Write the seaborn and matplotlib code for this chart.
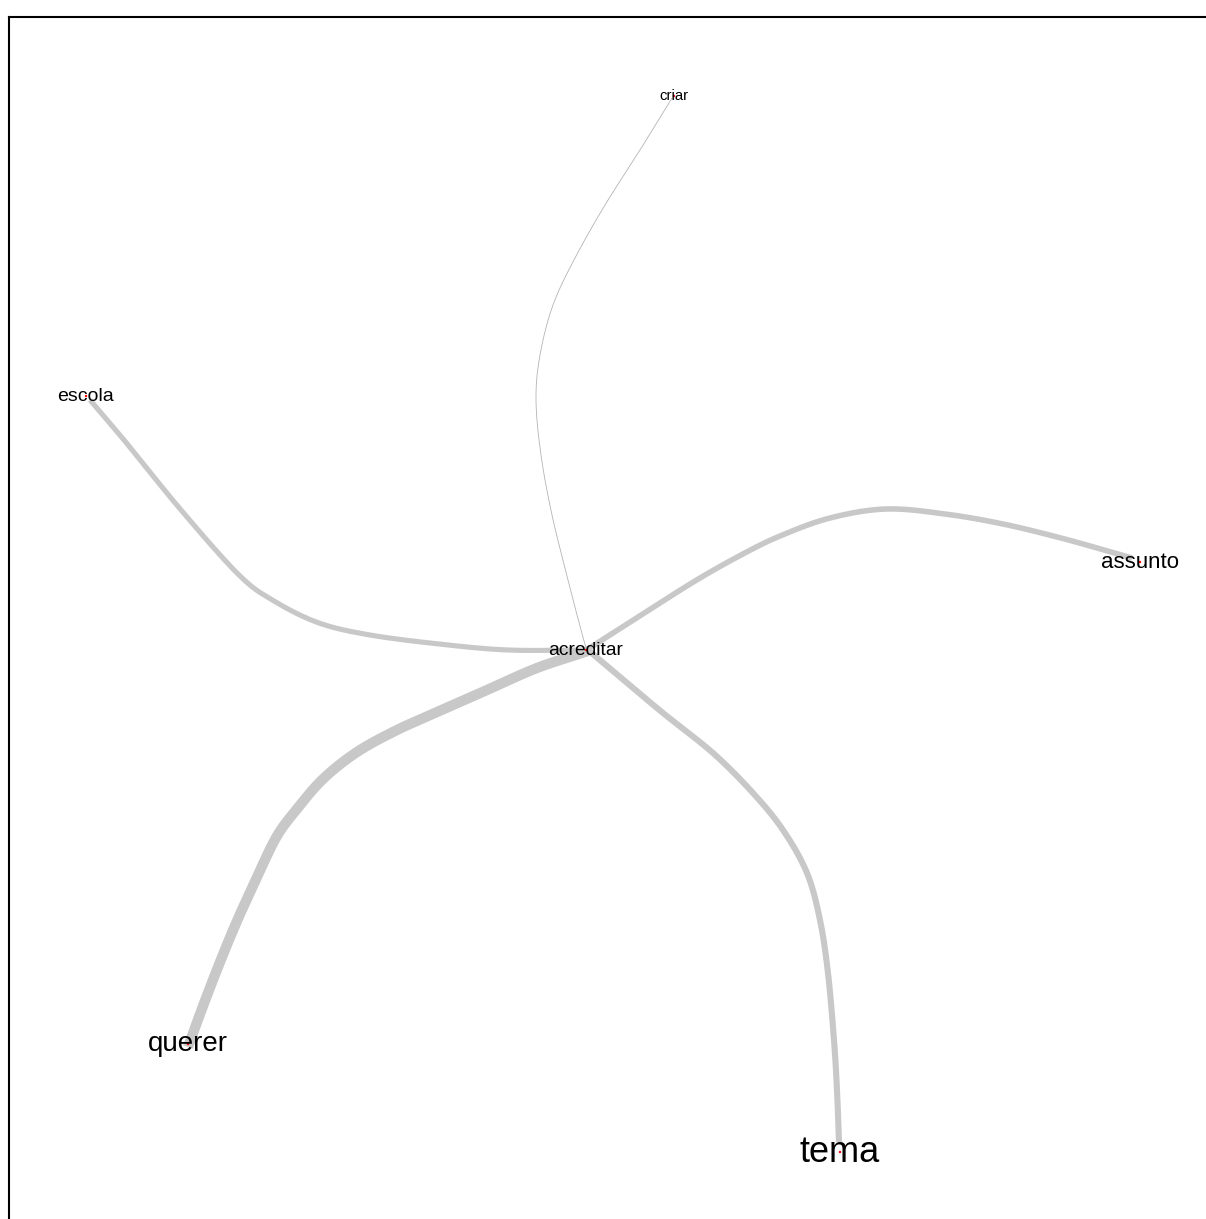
import numpy as np
import pandas as pd
import matplotlib
matplotlib.use("Agg")
import matplotlib.pyplot as plt
import seaborn as sns

# ---- data ----
node_names = ["acreditar", "criar", "escola", "assunto", "querer", "tema"]
node_x = [586, 674, 86, 1140, 188, 840]
node_y = [650, 96, 396, 562, 1044, 1152]
label_sizes = [13.9, 10.7, 14.0, 16.0, 20.0, 26.0]

edge_targets = ["criar", "escola", "assunto", "querer", "tema"]
edge_widths = [0.6, 3.7, 4.0, 7.4, 4.4]

# waypoints of each curved edge (from acreditar to the target)
criar_wx = [587, 584, 568, 552, 541, 536, 540, 553, 575, 605, 640, 672]
criar_wy = [648, 641, 580, 515, 455, 400, 355, 305, 258, 205, 150, 98]
escola_wx = [587, 508, 439, 370, 319, 274, 239, 181, 129, 90]
escola_wy = [650, 650, 644, 635, 623, 601, 575, 510, 446, 400]
assunto_wx = [588, 638, 695, 741, 780, 830, 886, 945, 1003, 1061, 1111, 1132]
assunto_wy = [649, 617, 581, 555, 536, 518, 509, 514, 524, 538, 552, 558]
querer_wx = [588, 537, 487, 437, 397, 357, 323, 297, 277, 257, 237, 220, 203, 188]
querer_wy = [651, 668, 690, 712, 730, 752, 779, 809, 836, 877, 921, 962, 1006, 1047]
tema_wx = [588, 620, 663, 713, 753, 783, 807, 820, 828, 834, 837, 839]
tema_wy = [650, 677, 713, 753, 793, 830, 873, 920, 973, 1040, 1090, 1142]

edge_wx = [criar_wx, escola_wx, assunto_wx, querer_wx, tema_wx]
edge_wy = [criar_wy, escola_wy, assunto_wy, querer_wy, tema_wy]


def catmull_rom(xs, ys, n=20):
    p = np.column_stack([xs, ys]).astype(float)
    p = np.vstack([2 * p[0] - p[1], p, 2 * p[-1] - p[-2]])
    out = []
    t = np.linspace(0, 1, n, endpoint=False)[:, None]
    for i in range(1, len(p) - 2):
        p0, p1, p2, p3 = p[i - 1], p[i], p[i + 1], p[i + 2]
        seg = 0.5 * ((2 * p1) + (-p0 + p2) * t + (2 * p0 - 5 * p1 + 4 * p2 - p3) * t ** 2
                     + (-p0 + 3 * p1 - 3 * p2 + p3) * t ** 3)
        out.append(seg)
    out.append(p[-2][None, :])
    out = np.vstack(out)
    return out[:, 0], out[:, 1]


sns.set_theme(style="white")
plt.rcParams["font.family"] = ["Liberation Sans", "DejaVu Sans"]

W, H = 1206, 1219
fig = plt.figure(figsize=(W / 100, H / 100), dpi=100)
left = 9 / W
top = 1 - 17 / H
bottom = -0.1
ax = fig.add_axes([left, bottom, 1.1, top - bottom])
ax.set_xlim(9, 9 + 1.1 * W)
ax.set_ylim(17 + (top - bottom) * H, 17)

order = [1, 2, 0, 3, 4]  # drawing order
for k in order:
    sx, sy = catmull_rom(edge_wx[k], edge_wy[k])
    df = pd.DataFrame({"x": sx, "y": sy})
    sns.lineplot(data=df, x="x", y="y", sort=False, estimator=None, ax=ax,
                 color="#c8c8c8" if k != 0 else "#b4b4b4",
                 linewidth=edge_widths[k], solid_capstyle="butt")

nodes = pd.DataFrame({"x": node_x, "y": node_y, "name": node_names})
sns.scatterplot(data=nodes, x="x", y="y", ax=ax, color="red", s=3,
                edgecolor="none", zorder=3)

for name, x, y, fs in zip(node_names, node_x, node_y, label_sizes):
    ax.text(x, y, name, ha="center", va="center", fontsize=fs,
            color="black", zorder=4)

ax.set_xlabel("")
ax.set_ylabel("")
ax.set_xticks([])
ax.set_yticks([])
for s in ["right", "bottom"]:
    ax.spines[s].set_visible(False)
for s in ["left", "top"]:
    ax.spines[s].set_visible(True)
    ax.spines[s].set_color("black")
    ax.spines[s].set_linewidth(1.5)

fig.savefig("out.png", dpi=100, facecolor="white")
